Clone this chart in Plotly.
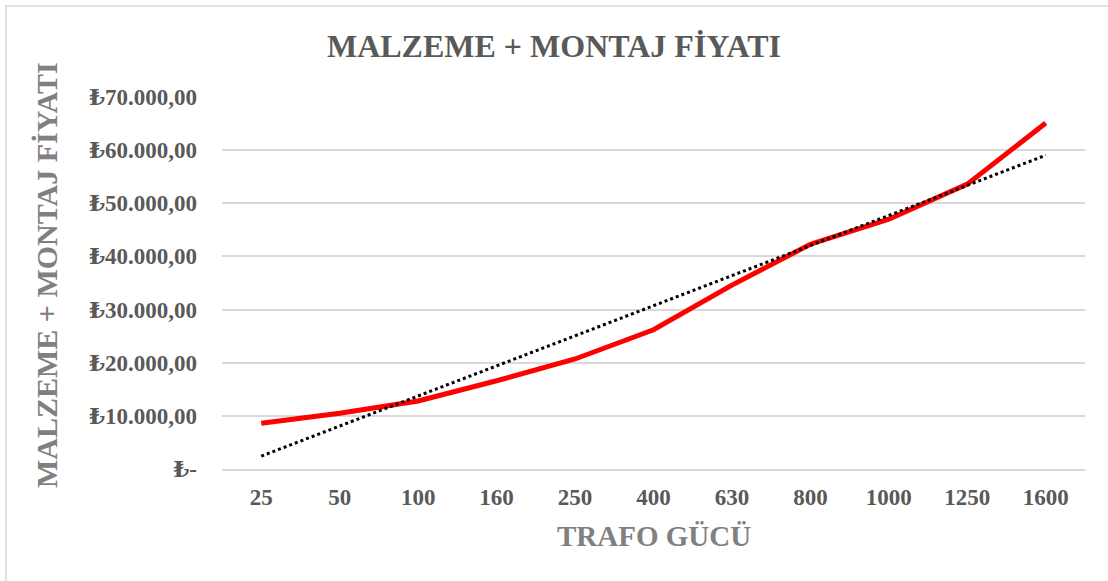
import numpy as np
import plotly.graph_objects as go

categories = ["25", "50", "100", "160", "250", "400", "630", "800", "1000", "1250", "1600"]
prices = [8600, 10500, 12800, 16600, 20700, 26200, 34600, 42300, 47000, 53600, 65100]
tick_vals = [0, 10000, 20000, 30000, 40000, 50000, 60000, 70000]
tick_text = ["₺-", "₺10.000,00", "₺20.000,00", "₺30.000,00", "₺40.000,00",
             "₺50.000,00", "₺60.000,00", "₺70.000,00"]

idx = np.arange(len(prices))
slope, intercept = np.polyfit(idx, prices, 1)
trend = slope * idx + intercept

FONT = "Liberation Serif, Times New Roman, DejaVu Serif, serif"

fig = go.Figure()
fig.add_trace(go.Scatter(x=categories, y=prices, mode="lines",
                         line=dict(color="#ff0000", width=5), showlegend=False))
fig.add_trace(go.Scatter(x=categories, y=trend, mode="lines",
                         line=dict(color="#000000", width=3, dash="dot"), showlegend=False))

fig.update_layout(
    width=1108, height=581,
    margin=dict(l=222, r=23, t=97, b=112),
    paper_bgcolor="white", plot_bgcolor="white",
    font=dict(family=FONT, color="#595959"),
    title=dict(text="<b>MALZEME + MONTAJ FİYATI</b>", x=0.5, xanchor="center",
               y=1 - 46 / 581, yanchor="middle",
               font=dict(family=FONT, size=32, color="#595959")),
    xaxis=dict(type="category", range=[-0.5, len(categories) - 0.5],
               showgrid=False, showline=True, linecolor="#d9d9d9",
               linewidth=1.5, ticks="", ticklabelstandoff=7,
               tickfont=dict(family=FONT, size=23, color="#595959", weight="bold")),
    yaxis=dict(range=[0, 70000], tickvals=tick_vals, ticktext=tick_text,
               showgrid=True, gridcolor="#d9d9d9", gridwidth=1.5, zeroline=False,
               ticks="", ticklabelstandoff=24,
               tickfont=dict(family=FONT, size=23, color="#595959", weight="bold")),
    annotations=[
        dict(text="<b>TRAFO GÜCÜ</b>", xref="paper", yref="paper",
             x=0.5, y=-67 / 372, xanchor="center", yanchor="middle", showarrow=False,
             font=dict(family=FONT, size=29, color="#808080")),
        dict(text="<b>MALZEME + MONTAJ FİYATI</b>", xref="paper", yref="paper",
             x=-(222 - 46) / 863, y=(469 - 275) / 372, xanchor="center", yanchor="middle",
             textangle=-90, showarrow=False,
             font=dict(family=FONT, size=30, color="#808080")),
    ],
    shapes=[dict(type="rect", xref="paper", yref="paper",
                 x0=-(222 - 6) / 863, x1=(1120 - 222) / 863,
                 y0=-(600 - 469) / 372, y1=(469 - 6) / 372,
                 line=dict(color="#d9d9d9", width=1.5), layer="below")],
)

fig.write_html("out.html", config={"displayModeBar": False},
               post_script="document.body.style.margin='0';document.body.style.overflow='hidden';")
